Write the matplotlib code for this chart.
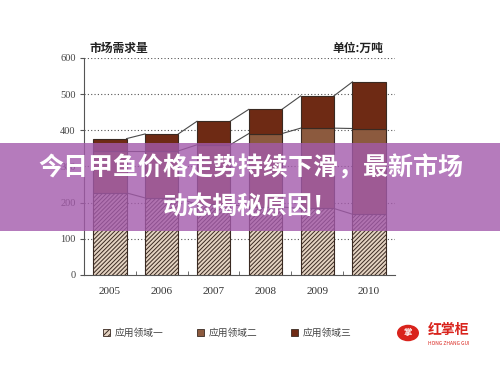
import numpy as np
import matplotlib.pyplot as plt
from matplotlib.patches import Rectangle, Circle

plt.rcParams['font.family'] = ['Noto Sans CJK SC', 'DejaVu Sans']
plt.rcParams['hatch.linewidth'] = 0.7
plt.rcParams['hatch.color'] = '#4a3228'

# 数据（万吨）
years = ['2005', '2006', '2007', '2008', '2009', '2010']
s1 = np.array([227, 213, 195, 188, 184, 168])   # 应用领域一
s2 = np.array([116, 130, 165, 203, 222, 237])   # 应用领域二
s3 = np.array([34, 47, 65, 67, 89, 129])        # 应用领域三
labels = ['应用领域一', '应用领域二', '应用领域三']
yticks = [0, 100, 200, 300, 400, 500, 600]

c1, c2, c3 = '#e4d3c2', '#8c5a3e', '#6e2a14'
edge = '#3a2a22'

fig = plt.figure(figsize=(5, 3.75), dpi=100)
ax = fig.add_axes([0.168, 0.2667, 0.622, 0.5787])

x = np.arange(len(years))
w = 0.64
ax.bar(x, s1, w, color=c1, hatch='////////', edgecolor=edge, linewidth=0.8, zorder=3)
ax.bar(x, s2, w, bottom=s1, color=c2, edgecolor=edge, linewidth=0.8, zorder=3)
ax.bar(x, s3, w, bottom=s1 + s2, color=c3, edgecolor=edge, linewidth=0.8, zorder=3)

# 系列线
for top in [s1, s1 + s2, s1 + s2 + s3]:
    for i in range(len(x) - 1):
        ax.plot([x[i] + w / 2, x[i + 1] - w / 2], [top[i], top[i + 1]],
                color='#4a4a4a', linewidth=0.8, zorder=2)

ax.set_xlim(-0.5, 5.5)
ax.set_ylim(0, 600)
ax.set_yticks(yticks)
ax.set_yticklabels([str(v) for v in yticks], family='Liberation Serif',
                   fontsize=7.5, color='#444444')
ax.set_xticks(x)
ax.set_xticklabels(years, family='Liberation Serif', fontsize=8, color='#333333')
ax.set_xticks(np.arange(0.5, 5.5, 1), minor=True)
ax.tick_params(axis='x', which='major', length=0, pad=9)
ax.tick_params(axis='x', which='minor', direction='in', length=3, color='#555555')
ax.tick_params(axis='y', length=3, color='#555555', pad=3)
for v in yticks[1:]:
    ax.axhline(v, color='#555555', linestyle=(0, (1, 2)), linewidth=0.8, zorder=1)
for s in ['top', 'right']:
    ax.spines[s].set_visible(False)
ax.spines['left'].set_color('#555555')
ax.spines['bottom'].set_color('#555555')

fig.text(0.178, 0.872, '市场需求量', fontsize=8.5, fontweight='bold', color='#222222', va='center')
fig.text(0.664, 0.872, '单位:万吨', fontsize=8.5, fontweight='bold', color='#222222', va='center')

# 图例
for lx, lab, col, h in zip([0.212, 0.400, 0.588], labels, [c1, c2, c3], ['//////', None, None]):
    fig.patches.append(Rectangle((lx - 0.007, 0.104), 0.014, 0.019, transform=fig.transFigure,
                                 facecolor=col, edgecolor=edge, linewidth=0.6, hatch=h))
    fig.text(lx + 0.018, 0.113, lab, fontsize=7, color='#444444', va='center')

# 标志
fig.patches.append(Circle((0.816, 0.112), 0.022, transform=fig.transFigure,
                          facecolor='#d9231c', edgecolor='none'))
fig.text(0.816, 0.112, '掌', fontsize=6, color='white', ha='center', va='center', fontweight='bold')
fig.text(0.856, 0.121, '红掌柜', fontsize=10, color='#d9231c', va='center', fontweight='bold')
fig.text(0.857, 0.085, 'HONG ZHANG GUI', fontsize=3.5, color='#d9231c', va='center')

# 标题遮罩
fig.patches.append(Rectangle((0, 0.384), 1, 0.235, transform=fig.transFigure,
                             facecolor='#a35aab', alpha=0.8, edgecolor='none', zorder=5))
fig.text(0.502, 0.552, '今日甲鱼价格走势持续下滑，最新市场', fontsize=18, fontweight='bold',
         color='white', ha='center', va='center', zorder=6)
fig.text(0.5, 0.448, '动态揭秘原因！', fontsize=18, fontweight='bold',
         color='white', ha='center', va='center', zorder=6)

fig.savefig('out.png', dpi=100)
